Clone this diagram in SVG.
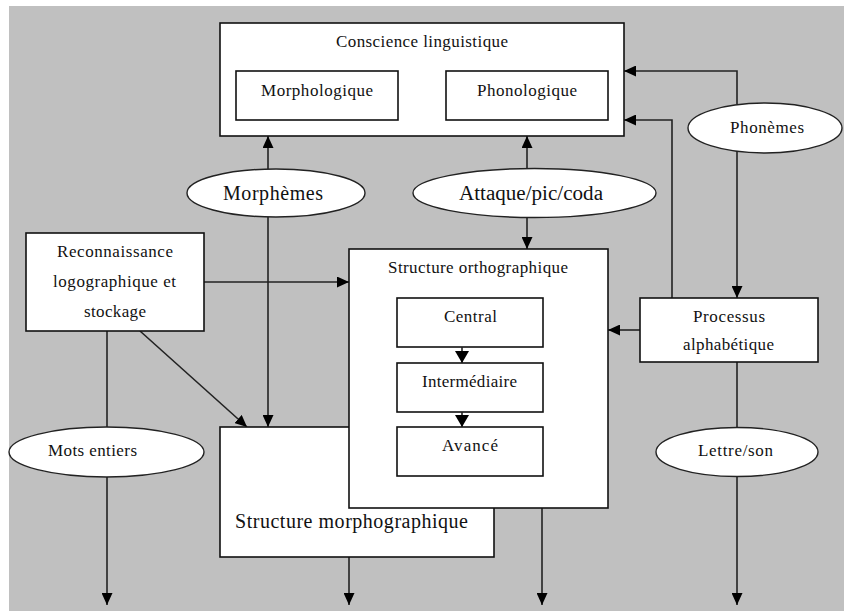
<svg xmlns="http://www.w3.org/2000/svg" width="844" height="611" viewBox="0 0 844 611">
<style>
.box{fill:#fff;stroke:#111;stroke-width:1.6}
.ell{fill:#fff;stroke:#222;stroke-width:1.4}
.ln{fill:none;stroke:#222;stroke-width:1.6}
.t{font-family:'Liberation Serif','DejaVu Serif','Times New Roman',serif;font-size:17px;fill:#111;text-anchor:middle}
.tl{font-family:'Liberation Serif','DejaVu Serif','Times New Roman',serif;font-size:20px;fill:#111;text-anchor:middle}
</style>
<defs>
<marker id="ah" viewBox="0 0 12 11" refX="12" refY="5.5" markerWidth="12" markerHeight="11" markerUnits="userSpaceOnUse" orient="auto">
<path d="M0,0 L12,5.5 L0,11 z" fill="#000"/>
</marker>
<marker id="ahs" viewBox="0 0 12 14" refX="12" refY="7" markerWidth="12" markerHeight="14" markerUnits="userSpaceOnUse" orient="auto">
<path d="M0,0 L12,7 L0,14 z" fill="#000"/>
</marker>
</defs>
<rect x="0" y="0" width="844" height="611" fill="#fff"/>
<rect x="9" y="6" width="835" height="605" fill="#c0c0c0"/>

<g id="connectors">
<line class="ln" x1="268" y1="169" x2="268" y2="136" marker-end="url(#ah)"/>
<line class="ln" x1="268" y1="217" x2="268" y2="427" marker-end="url(#ah)"/>
<line class="ln" x1="527" y1="168" x2="527" y2="136" marker-end="url(#ah)"/>
<line class="ln" x1="527" y1="217" x2="527" y2="249" marker-end="url(#ah)"/>
<polyline class="ln" points="737,104 737,71 624,71" marker-end="url(#ah)"/>
<line class="ln" x1="737" y1="152" x2="737" y2="298" marker-end="url(#ah)"/>
<polyline class="ln" points="672,298 672,120 624,120" marker-end="url(#ah)"/>
<line class="ln" x1="640" y1="330" x2="608" y2="330" marker-end="url(#ah)"/>
<line class="ln" x1="737" y1="362" x2="737" y2="605" marker-end="url(#ah)"/>
<line class="ln" x1="204" y1="282" x2="349" y2="282" marker-end="url(#ah)"/>
<line class="ln" x1="140" y1="331" x2="247" y2="427" marker-end="url(#ah)"/>
<line class="ln" x1="107" y1="331" x2="107" y2="605" marker-end="url(#ah)"/>
<line class="ln" x1="349" y1="557" x2="349" y2="605" marker-end="url(#ah)"/>
<line class="ln" x1="542" y1="508" x2="542" y2="605" marker-end="url(#ah)"/>
</g>

<g id="conscience">
<rect class="box" x="220" y="23" width="404" height="113"/>
<text class="t" x="422" y="47" textLength="172" lengthAdjust="spacing">Conscience linguistique</text>
</g>
<g id="morphologique">
<rect class="box" x="236" y="71" width="162" height="49"/>
<text class="t" x="317" y="96" textLength="112" lengthAdjust="spacing">Morphologique</text>
</g>
<g id="phonologique">
<rect class="box" x="446" y="71" width="162" height="49"/>
<text class="t" x="527" y="96" textLength="100" lengthAdjust="spacing">Phonologique</text>
</g>

<g id="morphemes">
<ellipse class="ell" cx="276" cy="193" rx="89" ry="24"/>
<text class="tl" x="273" y="200" textLength="100" lengthAdjust="spacing">Morphèmes</text>
</g>
<g id="attaque">
<ellipse class="ell" cx="534.5" cy="193" rx="121.5" ry="24.5"/>
<text class="tl" x="531" y="200" textLength="144" lengthAdjust="spacingAndGlyphs">Attaque/pic/coda</text>
</g>
<g id="phonemes">
<ellipse class="ell" cx="765" cy="128" rx="77" ry="25"/>
<text class="t" x="767" y="133" textLength="74" lengthAdjust="spacing">Phonèmes</text>
</g>

<g id="reconnaissance">
<rect class="box" x="26" y="233" width="178" height="98"/>
<text class="t" x="115" y="257" textLength="116" lengthAdjust="spacing">Reconnaissance</text>
<text class="t" x="114.5" y="287" textLength="123" lengthAdjust="spacing">logographique et</text>
<text class="t" x="115" y="317" textLength="62" lengthAdjust="spacing">stockage</text>
</g>

<g id="morphographique">
<rect class="box" x="220" y="427" width="274" height="130"/>
<text class="tl" x="351.5" y="528" textLength="233" lengthAdjust="spacing">Structure morphographique</text>
</g>

<g id="orthographique">
<rect class="box" x="349" y="249" width="259" height="259"/>
<text class="t" x="478" y="273" textLength="180" lengthAdjust="spacing">Structure orthographique</text>
</g>
<g id="central">
<rect class="box" x="397" y="298" width="146" height="49"/>
<text class="t" x="470.5" y="322" textLength="53" lengthAdjust="spacing">Central</text>
</g>
<g id="intermediaire">
<rect class="box" x="397" y="363" width="146" height="49"/>
<text class="t" x="469.5" y="387" textLength="95" lengthAdjust="spacing">Intermédiaire</text>
</g>
<g id="avance">
<rect class="box" x="397" y="427" width="146" height="49"/>
<text class="t" x="470" y="451" textLength="56" lengthAdjust="spacing">Avancé</text>
</g>
<g id="inner-connectors">
<line class="ln" x1="462" y1="347" x2="462" y2="363" marker-end="url(#ahs)"/>
<line class="ln" x1="462" y1="412" x2="462" y2="427" marker-end="url(#ahs)"/>
</g>

<g id="processus">
<rect class="box" x="640" y="298" width="178" height="64"/>
<text class="t" x="729" y="322" textLength="72" lengthAdjust="spacing">Processus</text>
<text class="t" x="728.5" y="350" textLength="91" lengthAdjust="spacing">alphabétique</text>
</g>

<g id="mots">
<ellipse class="ell" cx="106.5" cy="452" rx="97.5" ry="25"/>
<text class="t" x="92.5" y="456" textLength="89" lengthAdjust="spacing">Mots entiers</text>
</g>
<g id="lettre">
<ellipse class="ell" cx="737" cy="452" rx="81" ry="24.5"/>
<text class="t" x="735.5" y="456" textLength="75" lengthAdjust="spacing">Lettre/son</text>
</g>
</svg>
